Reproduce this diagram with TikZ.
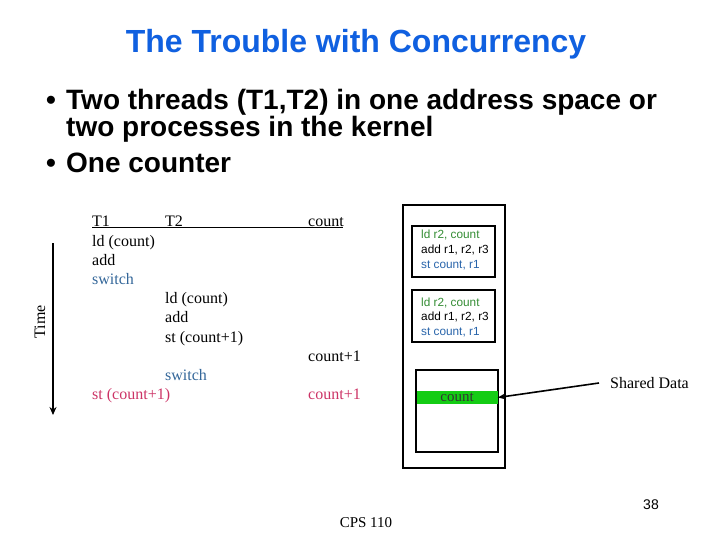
\documentclass[tikz,border=0pt]{standalone}
\usepackage{fontspec}
\setmainfont{Liberation Serif}
\newfontfamily\arialf{Liberation Sans}
\usetikzlibrary{arrows.meta}
\definecolor{titleblue}{RGB}{16,96,224}
\definecolor{swblue}{RGB}{51,102,153}
\definecolor{crim}{RGB}{204,51,102}
\definecolor{boxgreen}{RGB}{51,140,51}
\definecolor{boxblue}{RGB}{40,100,170}
\definecolor{band}{RGB}{20,204,20}
\tikzset{
  tt/.style={anchor=base west, inner sep=0pt, font=\fontsize{16}{18}\selectfont},
  bul/.style={anchor=base west, inner sep=0pt, font=\arialf\bfseries\fontsize{28}{32}\selectfont},
  bx/.style={anchor=base west, inner sep=0pt, font=\arialf\fontsize{11.8}{13}\selectfont},
  frame/.style={draw=black, line width=1.8pt},
}
\begin{document}
\begin{tikzpicture}[x=1pt,y=-1pt]
\useasboundingbox (0,0) rectangle (720,540);
% title
\node[anchor=base, inner sep=0pt, text=titleblue, font=\arialf\bfseries\fontsize{32}{36}\selectfont] (title) at (356,53) {The Trouble with Concurrency};
% bullets
\node[bul] (b1) at (46,110) {\textbullet};
\node[bul] (l1) at (66,110) {Two threads (T1,T2) in one address space or};
\node[bul] (l2) at (66,137) {two processes in the kernel};
\node[bul] (b2) at (46,173) {\textbullet};
\node[bul] (l3) at (66,173) {One counter};
% table
\node[tt] (t1) at (92,226) {T1};
\node[tt] (t2) at (165,226) {T2};
\node[tt] (cnt) at (308,226) {count};
\coordinate (ulA) at (92,227.5);
\coordinate (ulB) at (343,227.5);
\draw[line width=1.6pt] (ulA) -- (ulB);
\node[tt] (a1) at (92,246) {ld (count)};
\node[tt] (a2) at (92,265) {add};
\node[tt, text=swblue] (a3) at (92,284) {switch};
\node[tt] (b4) at (165,303) {ld (count)};
\node[tt] (b5) at (165,322) {add};
\node[tt] (b6) at (165,342) {st (count+1)};
\node[tt] (c7) at (308,361) {count+1};
\node[tt, text=swblue] (b8) at (165,380) {switch};
\node[tt, text=crim] (a9) at (92,399) {st (count+1)};
\node[tt, text=crim] (c9) at (308,399) {count+1};
% time arrow
\coordinate (tA) at (53,243);
\coordinate (tB) at (53,415);
\draw[line width=1.5pt, -{Stealth[length=8pt,width=7pt]}] (tA) -- (tB);
\node[rotate=90, inner sep=0pt, font=\fontsize{16}{18}\selectfont] (time) at (40,322) {Time};
% memory
\node[frame, minimum width=102pt, minimum height=263pt, inner sep=0pt] (mem) at (454,336.5) {};
\node[frame, minimum width=83pt, minimum height=51pt, inner sep=0pt] (box1) at (453.5,251.5) {};
\node[frame, minimum width=83pt, minimum height=52pt, inner sep=0pt] (box2) at (453.5,316) {};
\node[frame, minimum width=82pt, minimum height=82pt, inner sep=0pt] (box3) at (457,411) {};
\node[bx, text=boxgreen] (r1) at (421,239) {ld r2, count};
\node[bx] (r2) at (421,253) {add r1, r2, r3};
\node[bx, text=boxblue] (r3) at (421,268) {st count, r1};
\node[bx, text=boxgreen] (s1) at (421,306) {ld r2, count};
\node[bx] (s2) at (421,320) {add r1, r2, r3};
\node[bx, text=boxblue] (s3) at (421,335) {st count, r1};
\node[fill=band, minimum width=81pt, minimum height=13pt, inner sep=0pt, text=black!80, font=\fontsize{15}{16}\selectfont] (bandn) at (457,397.5) {count};
% shared data
\node[anchor=west, inner sep=0pt, font=\fontsize{16}{18}\selectfont] (shared) at (610,383) {Shared Data};
\draw[line width=1.6pt, -{Stealth[length=8pt,width=6pt]}] ([xshift=-11pt]shared.west) -- (bandn.east);
% footer
\node[anchor=base, inner sep=0pt, font=\arialf\fontsize{14}{16}\selectfont] (pg) at (651,509) {38};
\node[anchor=base, inner sep=0pt, font=\fontsize{15}{17}\selectfont] (cps) at (366,527) {CPS 110};
\end{tikzpicture}
\end{document}
